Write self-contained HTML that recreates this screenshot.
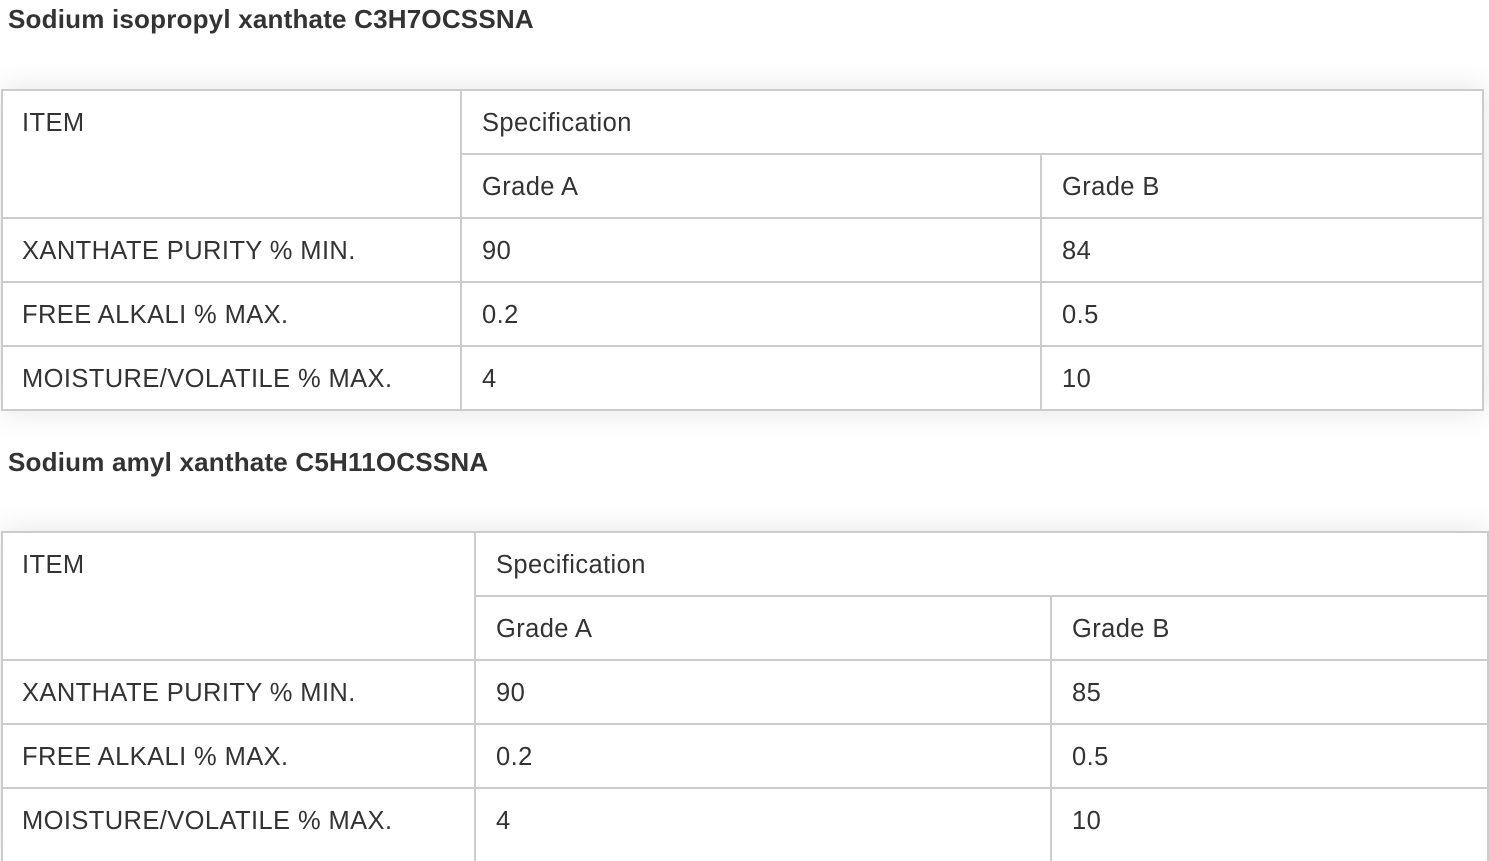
<!DOCTYPE html>
<html><head><meta charset="utf-8">
<style>
html,body{margin:0;padding:0;background:#fff;}
body{width:1489px;height:851px;position:relative;overflow:hidden;font-family:"Liberation Sans",Arial,sans-serif;color:#333;}
.h{position:absolute;left:8px;font-weight:bold;font-size:26px;line-height:40px;height:40px;white-space:nowrap;color:#333;letter-spacing:0.2px;}
.box{position:absolute;background:#fff;box-shadow:0 0 30px rgba(0,0,0,0.11);}
.l{position:absolute;background:#cccccc;}
.t{position:absolute;font-size:25.5px;line-height:62px;height:62px;white-space:nowrap;color:#333;letter-spacing:0.4px;}
</style></head><body>

<div class="h" style="top:-1px;">Sodium isopropyl xanthate C3H7OCSSNA</div>

<!-- table 1 -->
<div class="box" style="left:1px;top:89px;width:1483px;height:322px;"></div>
<div class="l" style="left:1px;top:89px;width:1483px;height:2px;"></div>
<div class="l" style="left:460px;top:153px;width:1024px;height:2px;"></div>
<div class="l" style="left:1px;top:217px;width:1483px;height:2px;"></div>
<div class="l" style="left:1px;top:281px;width:1483px;height:2px;"></div>
<div class="l" style="left:1px;top:345px;width:1483px;height:2px;"></div>
<div class="l" style="left:1px;top:409px;width:1483px;height:2px;"></div>
<div class="l" style="left:1px;top:89px;width:2px;height:322px;"></div>
<div class="l" style="left:460px;top:89px;width:2px;height:322px;"></div>
<div class="l" style="left:1040px;top:153px;width:2px;height:258px;"></div>
<div class="l" style="left:1482px;top:89px;width:2px;height:322px;"></div>

<div class="t" style="left:22px;top:92px;">ITEM</div>
<div class="t" style="left:482px;top:92px;">Specification</div>
<div class="t" style="left:482px;top:156px;">Grade A</div>
<div class="t" style="left:1062px;top:156px;">Grade B</div>
<div class="t" style="left:22px;top:220px;">XANTHATE PURITY % MIN.</div>
<div class="t" style="left:482px;top:220px;">90</div>
<div class="t" style="left:1062px;top:220px;">84</div>
<div class="t" style="left:22px;top:284px;">FREE ALKALI % MAX.</div>
<div class="t" style="left:482px;top:284px;">0.2</div>
<div class="t" style="left:1062px;top:284px;">0.5</div>
<div class="t" style="left:22px;top:348px;">MOISTURE/VOLATILE % MAX.</div>
<div class="t" style="left:482px;top:348px;">4</div>
<div class="t" style="left:1062px;top:348px;">10</div>

<div class="h" style="top:442px;">Sodium amyl xanthate C5H11OCSSNA</div>

<!-- table 2 -->
<div class="box" style="left:1px;top:531px;width:1488px;height:330px;"></div>
<div class="l" style="left:1px;top:531px;width:1488px;height:2px;"></div>
<div class="l" style="left:474px;top:595px;width:1015px;height:2px;"></div>
<div class="l" style="left:1px;top:659px;width:1488px;height:2px;"></div>
<div class="l" style="left:1px;top:723px;width:1488px;height:2px;"></div>
<div class="l" style="left:1px;top:787px;width:1488px;height:2px;"></div>
<div class="l" style="left:1px;top:531px;width:2px;height:330px;"></div>
<div class="l" style="left:474px;top:531px;width:2px;height:330px;"></div>
<div class="l" style="left:1050px;top:595px;width:2px;height:266px;"></div>
<div class="l" style="left:1487px;top:531px;width:2px;height:330px;"></div>

<div class="t" style="left:22px;top:534px;">ITEM</div>
<div class="t" style="left:496px;top:534px;">Specification</div>
<div class="t" style="left:496px;top:598px;">Grade A</div>
<div class="t" style="left:1072px;top:598px;">Grade B</div>
<div class="t" style="left:22px;top:662px;">XANTHATE PURITY % MIN.</div>
<div class="t" style="left:496px;top:662px;">90</div>
<div class="t" style="left:1072px;top:662px;">85</div>
<div class="t" style="left:22px;top:726px;">FREE ALKALI % MAX.</div>
<div class="t" style="left:496px;top:726px;">0.2</div>
<div class="t" style="left:1072px;top:726px;">0.5</div>
<div class="t" style="left:22px;top:790px;">MOISTURE/VOLATILE % MAX.</div>
<div class="t" style="left:496px;top:790px;">4</div>
<div class="t" style="left:1072px;top:790px;">10</div>

</body></html>
